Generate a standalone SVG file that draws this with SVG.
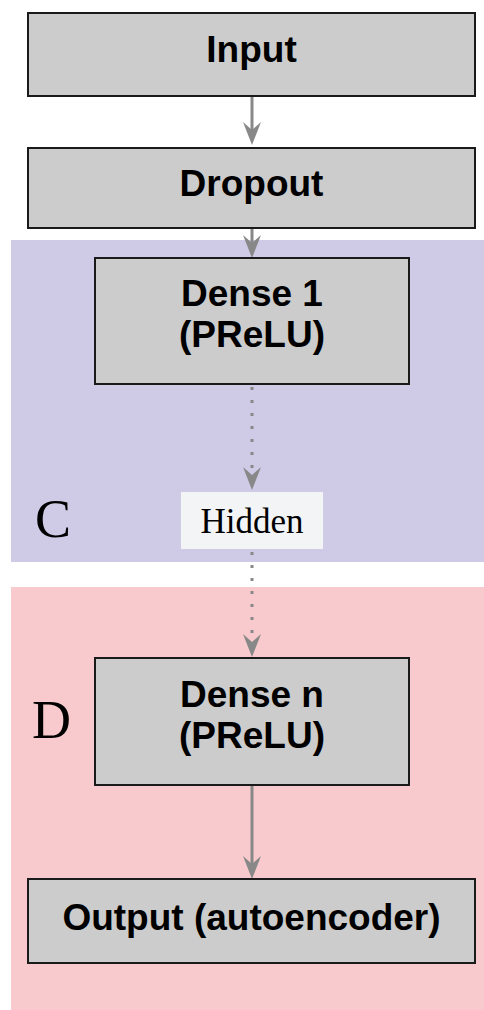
<svg xmlns="http://www.w3.org/2000/svg" width="484" height="1010" viewBox="0 0 484 1010">
  <defs>
    <marker id="arr" markerUnits="userSpaceOnUse" markerWidth="24" markerHeight="20" refX="8" refY="9" orient="auto">
      <path d="M0,0 L23,9 L0,18 L8,9 Z" fill="#888888"/>
    </marker>
    <style>
      .box { fill: #cccccc; stroke: #1a1a1a; stroke-width: 2; }
      .lbl { font-family: "Liberation Sans", Arial, sans-serif; font-weight: bold; font-size: 37px; fill: #000; text-anchor: middle; }
      .reg { font-family: "Liberation Serif", "Times New Roman", serif; font-size: 54px; fill: #000; }
      .edge { stroke: #888888; stroke-width: 3; fill: none; marker-end: url(#arr); }
      .dot { stroke-dasharray: 3 10; }
    </style>
  </defs>
  <rect width="484" height="1010" fill="#ffffff"/>
  <g id="region-C">
    <rect x="11" y="240" width="473" height="322" fill="#cfcbe7"/>
    <text class="reg" x="35" y="537">C</text>
  </g>
  <g id="region-D">
    <rect x="11" y="587" width="473" height="423" fill="#f8cacd"/>
    <text class="reg" x="32" y="738">D</text>
  </g>
  <g id="connectors">
    <path class="edge" d="M252,96 L252,130"/>
    <path class="edge" d="M252,228 L252,243"/>
    <path class="edge dot" d="M252,387 L252,475"/>
    <path class="edge dot" d="M252,552 L252,642"/>
    <path class="edge" d="M252,785 L252,864"/>
  </g>
  <g id="input">
    <rect class="box" x="28" y="13" width="447" height="83"/>
    <text class="lbl" x="251.5" y="62">Input</text>
  </g>
  <g id="dropout">
    <rect class="box" x="28" y="148" width="447" height="80"/>
    <text class="lbl" x="251.5" y="196">Dropout</text>
  </g>
  <g id="dense1">
    <rect class="box" x="95" y="258" width="314" height="126"/>
    <text class="lbl" x="252" y="306">Dense 1</text>
    <text class="lbl" x="252" y="347">(PReLU)</text>
  </g>
  <g id="hidden">
    <rect x="181" y="492" width="142" height="57" fill="#f3f4f6"/>
    <text x="252" y="533" font-family="'Liberation Serif', 'Times New Roman', serif" font-size="35" text-anchor="middle" fill="#000">Hidden</text>
  </g>
  <g id="densen">
    <rect class="box" x="95" y="658" width="314" height="127"/>
    <text class="lbl" x="252" y="707">Dense n</text>
    <text class="lbl" x="252" y="748">(PReLU)</text>
  </g>
  <g id="output">
    <rect class="box" x="28" y="879" width="447" height="84"/>
    <text class="lbl" x="251.5" y="930">Output (autoencoder)</text>
  </g>
</svg>
